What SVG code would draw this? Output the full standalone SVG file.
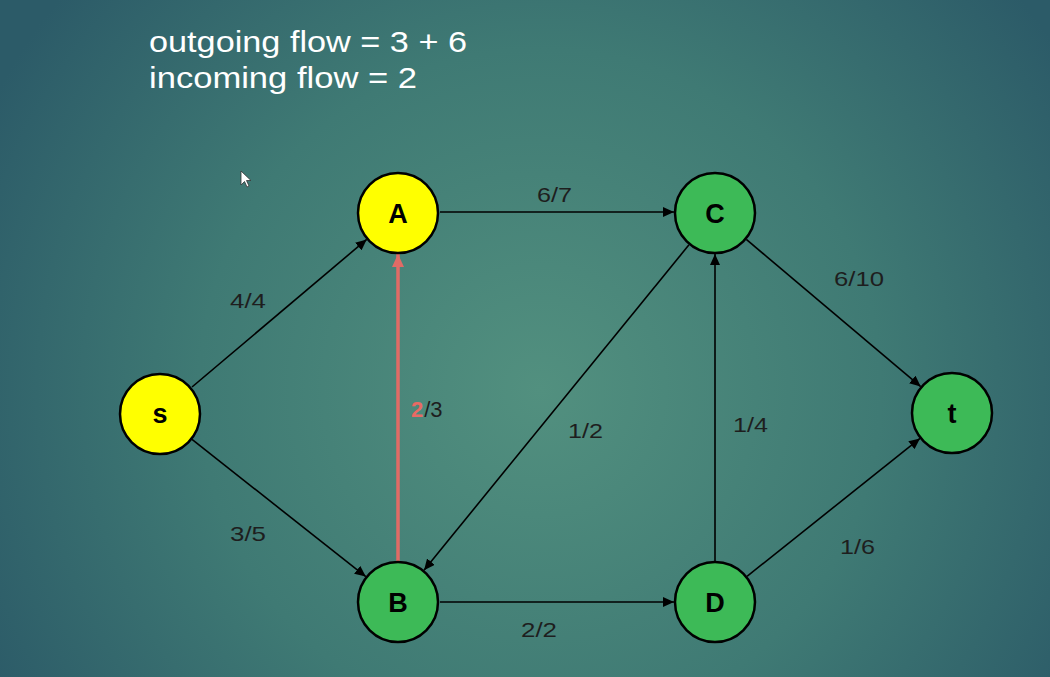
<svg xmlns="http://www.w3.org/2000/svg" width="1050" height="677" viewBox="0 0 1050 677">
<defs>
<radialGradient id="bg" cx="540" cy="390" r="620" gradientUnits="userSpaceOnUse">
<stop offset="0" stop-color="#52907f"/>
<stop offset="0.55" stop-color="#3f7a74"/>
<stop offset="1" stop-color="#2c5b68"/>
</radialGradient>
<marker id="ah" markerUnits="userSpaceOnUse" markerWidth="11" markerHeight="10" refX="11" refY="5" orient="auto">
<path d="M0,0 L11,5 L0,10 z" fill="#000"/>
</marker>
<marker id="ahr" markerUnits="userSpaceOnUse" markerWidth="13" markerHeight="12" refX="13" refY="6" orient="auto">
<path d="M0,0 L13,6 L0,12 z" fill="#e06b66"/>
</marker>
</defs>
<style>
.hdr{font-family:"Liberation Sans","DejaVu Sans",sans-serif;font-size:30px;fill:#ffffff}
.el{font-family:"Liberation Sans","DejaVu Sans",sans-serif;font-size:21px;fill:#1e1e1e}
.nl{font-family:"Liberation Sans","DejaVu Sans",sans-serif;font-size:27px;font-weight:bold;fill:#000;text-anchor:middle}
.edge{stroke:#000;stroke-width:1.6;fill:none;marker-end:url(#ah)}
.yel{fill:#ffff00;stroke:#000;stroke-width:2.5}
.grn{fill:#3dba57;stroke:#000;stroke-width:2.5}
</style>
<rect width="1050" height="677" fill="url(#bg)"/>
<text class="hdr" x="149" y="52" textLength="318" lengthAdjust="spacingAndGlyphs">outgoing flow = 3 + 6</text>
<text class="hdr" x="149" y="88" textLength="268" lengthAdjust="spacingAndGlyphs">incoming flow = 2</text>
<path d="M241,171 L241,185 L244.5,181.5 L247,187 L249,186 L246.5,180.5 L251,180.5 z" fill="#fff" stroke="#333" stroke-width="0.8"/>
<g id="connectors">
<line class="edge" x1="192" y1="387" x2="366.7" y2="239.4"/>
<line class="edge" x1="192" y1="439.4" x2="365.8" y2="576.6"/>
<line class="edge" x1="440" y1="212" x2="674" y2="212"/>
<line x1="398" y1="561" x2="398" y2="254" stroke="#e06b66" stroke-width="3.5" marker-end="url(#ahr)"/>
<line class="edge" x1="689" y1="244.8" x2="424" y2="570.2"/>
<line class="edge" x1="440" y1="602" x2="674" y2="602"/>
<line class="edge" x1="715" y1="561" x2="715" y2="254"/>
<line class="edge" x1="746.3" y1="239.4" x2="920.7" y2="386.6"/>
<line class="edge" x1="747" y1="576.4" x2="920" y2="438.4"/>
<text class="el" x="537" y="202" textLength="35" lengthAdjust="spacingAndGlyphs">6/7</text>
<text class="el" x="230" y="308" textLength="36" lengthAdjust="spacingAndGlyphs">4/4</text>
<text class="el" x="230" y="541" textLength="36" lengthAdjust="spacingAndGlyphs">3/5</text>
<text x="411" y="417" style="font-family:'Liberation Sans','DejaVu Sans',sans-serif;font-size:22px"><tspan fill="#e86a64" font-weight="bold">2</tspan><tspan fill="#1e1e1e" dx="1">/3</tspan></text>
<text class="el" x="568" y="438" textLength="35" lengthAdjust="spacingAndGlyphs">1/2</text>
<text class="el" x="733" y="432" textLength="35" lengthAdjust="spacingAndGlyphs">1/4</text>
<text class="el" x="834" y="286" textLength="50" lengthAdjust="spacingAndGlyphs">6/10</text>
<text class="el" x="840" y="554" textLength="35" lengthAdjust="spacingAndGlyphs">1/6</text>
<text class="el" x="521" y="637" textLength="36" lengthAdjust="spacingAndGlyphs">2/2</text>
</g>
<g id="node-s"><circle class="yel" cx="160" cy="414" r="40"/><text class="nl" x="160" y="423">s</text></g>
<g id="node-A"><circle class="yel" cx="398" cy="213" r="40"/><text class="nl" x="398" y="223">A</text></g>
<g id="node-C"><circle class="grn" cx="715" cy="213" r="40"/><text class="nl" x="715" y="223">C</text></g>
<g id="node-t"><circle class="grn" cx="952" cy="413" r="40"/><text class="nl" x="952" y="423">t</text></g>
<g id="node-B"><circle class="grn" cx="398" cy="602" r="40"/><text class="nl" x="398" y="612">B</text></g>
<g id="node-D"><circle class="grn" cx="715" cy="602" r="40"/><text class="nl" x="715" y="612">D</text></g>
</svg>
